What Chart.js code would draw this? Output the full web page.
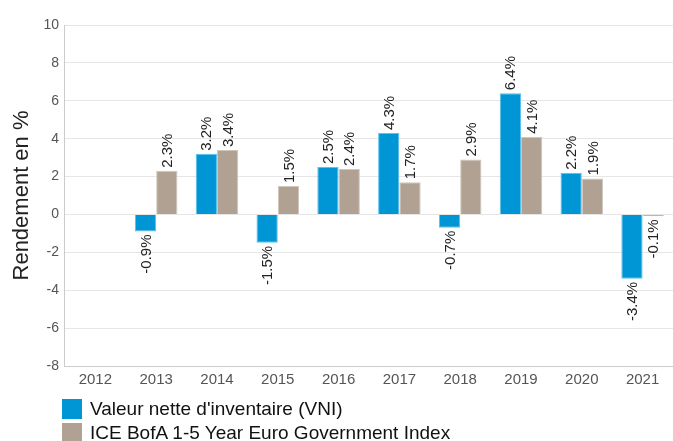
<!DOCTYPE html>
<html>
<head>
<meta charset="utf-8">
<script src="https://cdn.jsdelivr.net/npm/chart.js@4"></script>
<style>
  html, body { margin: 0; padding: 0; background: #fff; overflow: hidden; }
  #wrap { position: relative; width: 673px; height: 441px; }
  #legend { position: absolute; left: 62px; top: 397px; font-family: "Liberation Sans", Arial, sans-serif; font-size: 19px; color: #111; }
  .item { display: flex; align-items: center; height: 24px; }
  .box { width: 20px; height: 20px; margin-right: 8px; }
</style>
</head>
<body>
<div id="wrap">
  <canvas id="chart" width="673" height="441"></canvas>
  <div id="legend"></div>
</div>
<script>
const years = ["2012", "2013", "2014", "2015", "2016", "2017", "2018", "2019", "2020", "2021"]
const vni = [null, -0.9, 3.2, -1.5, 2.5, 4.3, -0.7, 6.4, 2.2, -3.4]
const indexReturns = [null, 2.3, 3.4, 1.5, 2.4, 1.7, 2.9, 4.1, 1.9, -0.1]
const seriesNames = ["Valeur nette d'inventaire (VNI)", "ICE BofA 1-5 Year Euro Government Index"]
const seriesColors = ["#0096d6", "#b0a192"]

// labels rotated along the bars
const barLabels = {
  id: "barLabels",
  afterDatasetsDraw(chart) {
    const ctx = chart.ctx
    ctx.save()
    ctx.font = "15px 'Liberation Sans', Arial, sans-serif"
    ctx.fillStyle = "#222"
    ctx.textBaseline = "middle"
    chart.data.datasets.forEach((ds, i) => {
      const meta = chart.getDatasetMeta(i)
      meta.data.forEach((bar, j) => {
        const v = ds.data[j]
        if (v === null) return
        ctx.save()
        if (v >= 0) {
          ctx.translate(bar.x, bar.y - 3)
          ctx.rotate(-Math.PI / 2)
          ctx.textAlign = "left"
        } else {
          ctx.translate(bar.x, bar.y + 3)
          ctx.rotate(-Math.PI / 2)
          ctx.textAlign = "right"
        }
        ctx.fillText(v.toFixed(1) + "%", 0, 1)
        ctx.restore()
      })
    })
    ctx.restore()
  },
}

const chart = new Chart(document.getElementById("chart"), {
  type: "bar",
  data: {
    labels: years,
    datasets: [
      { label: seriesNames[0], data: vni, backgroundColor: seriesColors[0], borderColor: "#5cc0ec", borderWidth: 1 },
      { label: seriesNames[1], data: indexReturns, backgroundColor: seriesColors[1], borderColor: "#d0c6bc", borderWidth: 1 },
    ],
  },
  options: {
    responsive: false,
    animation: false,
    layout: { padding: { top: 25, right: 0, bottom: 47, left: 9 } },
    plugins: { legend: { display: false }, tooltip: { enabled: false } },
    datasets: { bar: { categoryPercentage: 0.7, barPercentage: 1.0 } },
    scales: {
      x: {
        grid: { display: false, drawTicks: false },
        border: { color: "#cccccc" },
        ticks: { color: "#555", font: { family: "'Liberation Sans', Arial, sans-serif", size: 15 }, padding: 5 },
      },
      y: {
        min: -8,
        max: 10,
        ticks: { stepSize: 2, color: "#555", font: { family: "'Liberation Sans', Arial, sans-serif", size: 14 }, padding: 6 },
        grid: { color: "#e6e6e6", drawTicks: false },
        border: { color: "#cccccc" },
        title: { display: true, text: "Rendement en %", color: "#222", font: { family: "'Liberation Sans', Arial, sans-serif", size: 22 }, padding: { top: 0, bottom: 2 } },
      },
    },
  },
  plugins: [barLabels],
})

const legend = document.getElementById("legend")
seriesNames.forEach((name, i) => {
  const row = document.createElement("div")
  row.className = "item"
  row.innerHTML = `<span class="box" style="background:${seriesColors[i]}"></span><span>${name}</span>`
  legend.appendChild(row)
})
</script>
</body>
</html>
